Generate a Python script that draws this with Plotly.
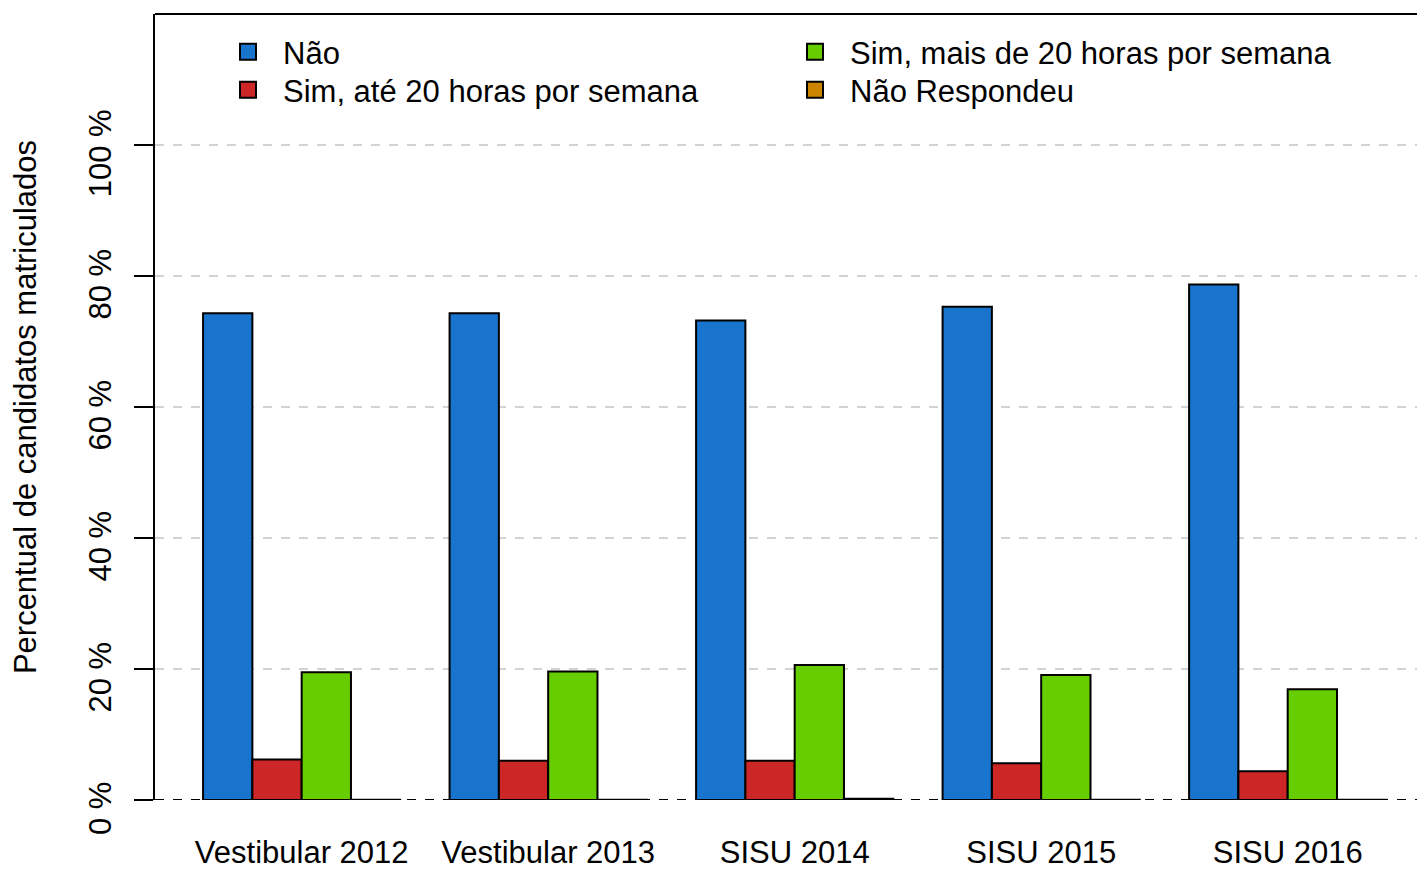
import plotly.graph_objects as go

categories = ["Vestibular 2012", "Vestibular 2013", "SISU 2014", "SISU 2015", "SISU 2016"]
series_names = ["Não", "Sim, até 20 horas por semana", "Sim, mais de 20 horas por semana", "Não Respondeu"]
nao = [74.3, 74.3, 73.2, 75.3, 78.7]
sim_ate_20 = [6.2, 6.0, 6.0, 5.6, 4.4]
sim_mais_20 = [19.5, 19.6, 20.6, 19.1, 16.9]
nao_respondeu = [0.05, 0.05, 0.2, 0.05, 0.05]
y_ticks = [0, 20, 40, 60, 80, 100]
y_tick_labels = ["0 %", "20 %", "40 %", "60 %", "80 %", "100 %"]

colors = ["#1874CD", "#CD2626", "#66CD00", "#CD8500"]
values = [nao, sim_ate_20, sim_mais_20, nao_respondeu]
legend_ids = ["legend", "legend2", "legend3", "legend4"]

FONT = "Liberation Sans, Arial, sans-serif"
FS = 31

# page offset of the plot div (body margin) is ~8 px
W, H = 1417, 862
L, R, T, B = 147, 0, 6, 70
PW = W - L - R
PH = H - T - B

fig = go.Figure()
for name, vals, col in zip(series_names, values, colors):
    fig.add_trace(go.Bar(
        x=categories, y=vals, name=name,
        marker=dict(color=col, line=dict(color="black", width=2)),
        showlegend=False,
    ))
# legend proxies (no data points drawn)
for name, col, lg in zip(series_names, colors, legend_ids):
    fig.add_trace(go.Scatter(
        x=[None], y=[None], mode="markers", name=name,
        marker=dict(symbol="square", size=16, color=col,
                    line=dict(color="black", width=2)),
        legend=lg, showlegend=True,
    ))

def px_to_paper_x(px_page):
    return (px_page - 8 - L) / PW

def px_to_paper_y(py_page):
    return 1 - (py_page - 8 - T) / PH

leg_text_x = [283, 283, 850, 850]
leg_row_y = [52, 90, 52, 90]
leg_layout = {}
for lg, tx, ry in zip(legend_ids, leg_text_x, leg_row_y):
    leg_layout[lg] = dict(
        x=px_to_paper_x(tx - 70), y=px_to_paper_y(ry),
        xanchor="left", yanchor="middle",
        bgcolor="rgba(0,0,0,0)", font=dict(size=FS),
        itemwidth=60, itemsizing="trace", borderwidth=0,
    )

# trailing non-breaking spaces nudge rotated labels along the axis like R's placement
y_tick_text = [t + "\u00a0\u00a0\u00a0" for t in y_tick_labels]

fig.update_layout(
    width=W, height=H,
    margin=dict(l=L, r=R, t=T, b=B, autoexpand=False),
    paper_bgcolor="white", plot_bgcolor="white",
    font=dict(family=FONT, size=FS, color="black"),
    barmode="group", bargap=0.2, bargroupgap=0,
    showlegend=True,
    xaxis=dict(range=[-0.595, 4.557], showline=False, ticks="",
               showgrid=False, zeroline=False, tickfont=dict(size=FS),
               ticklabelstandoff=31, automargin=False),
    yaxis=dict(range=[0, 120], tickvals=y_ticks, ticktext=y_tick_text,
               tickangle=-90, ticks="outside", ticklen=19, tickwidth=2,
               tickcolor="black", showline=True, linecolor="black", linewidth=2,
               showgrid=True, gridcolor="#D3D3D3", griddash="dash", gridwidth=2,
               zeroline=False, ticklabelstandoff=11, automargin=False,
               title=dict(text="Percentual de candidatos matriculados",
                          font=dict(size=FS), standoff=37)),
    shapes=[
        dict(type="line", xref="paper", yref="paper", x0=0, x1=1, y0=1, y1=1,
             line=dict(color="black", width=2)),
        dict(type="line", xref="paper", yref="y", x0=0, x1=1, y0=0, y1=0,
             line=dict(color="black", width=2, dash="dash"), layer="above"),
    ],
    **leg_layout,
)

fig.write_html("out.html")
